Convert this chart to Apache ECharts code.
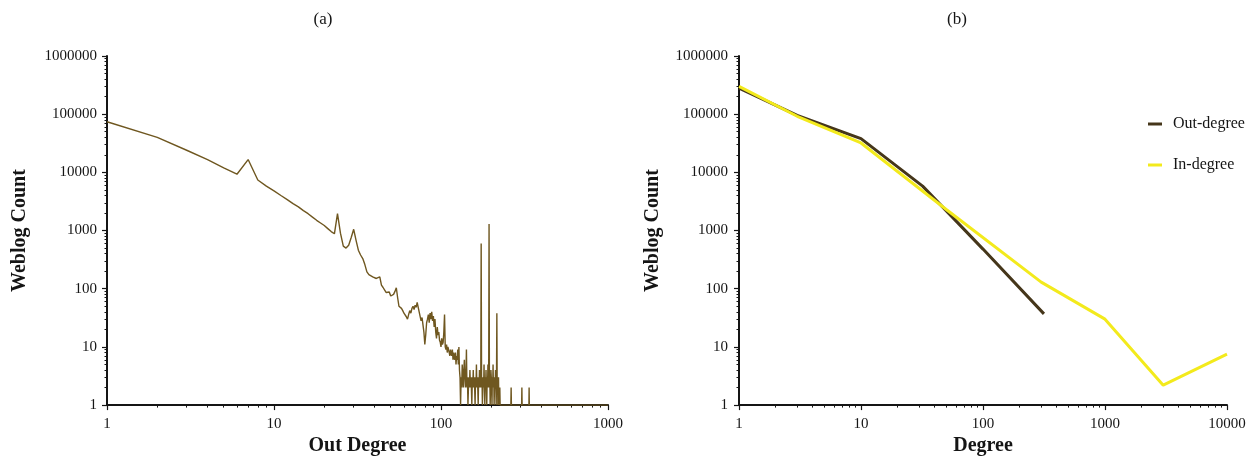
<!DOCTYPE html>
<html>
<head>
<meta charset="utf-8">
<script src="https://cdn.jsdelivr.net/npm/echarts@6/dist/echarts.min.js"></script>
<style>
  html, body { margin: 0; padding: 0; background: #fff; }
  #chart { width: 1255px; height: 461px; }
</style>
</head>
<body>
<div id="chart"></div>
<script>
// (a) weblog count for out degree 1, 2, 3 ... 226
const countA = [
  74000, 40000, 24000, 16500, 12000, 9300, 16600, 7400, 5800, 4800,
  4000, 3400, 2900, 2550, 2200, 1950, 1700, 1500, 1350, 1220,
  1080, 960, 880, 1950, 900, 540, 500, 560, 760, 1050,
  680, 460, 380, 330, 260, 195, 175, 170, 160, 165,
  150, 155, 160, 115, 105, 95, 86, 92, 88, 75,
  70, 80, 90, 104, 70, 50, 52, 46, 42, 38,
  40, 33, 30, 36, 42, 38, 46, 50, 44, 52,
  48, 58, 54, 40, 42, 28, 32, 24, 18, 11,
  16, 26, 30, 36, 26, 38, 30, 40, 28, 34,
  22, 30, 18, 14, 22, 16, 18, 13, 12, 10,
  14, 11, 12, 18, 36, 10, 9, 11, 8, 10,
  9, 8, 7, 9, 8, 7, 9, 6, 8, 7,
  6, 8, 5, 7, 6, 9, 5, 10, 4, 3,
  1, 3, 2, 5, 3, 2, 4, 6, 3, 2,
  3, 9, 2, 3, 1, 2, 3, 2, 4, 2,
  3, 2, 1, 3, 2, 4, 2, 3, 2, 1,
  3, 2, 5, 2, 3, 2, 1, 3, 2, 4,
  2, 3, 2, 600, 2, 3, 1, 2, 3, 2,
  5, 2, 1, 3, 2, 4, 2, 1, 3, 2,
  5, 2, 3, 1300, 2, 3, 1, 2, 4, 3,
  2, 1, 3, 2, 5, 2, 3, 1, 2, 3,
  2, 4, 2, 1, 3, 38, 2, 3, 1, 2,
  3, 1, 2, 1, 2, 1
];
// (a) sparse tail beyond degree 226
const tailDegA = [230, 262, 263, 264, 304, 305, 306, 336, 337, 338, 400, 600, 1000];
const tailCountA = [1, 1, 2, 1, 1, 2, 1, 1, 2, 1, 1, 1, 1];

// (b) degree distributions
const outDegB = [1, 3, 10, 32, 100, 316];
const outCountB = [280000, 95000, 38000, 5800, 480, 37];
const inDegB = [1, 3, 10, 50, 300, 1000, 3000, 10000];
const inCountB = [300000, 92000, 32000, 2300, 130, 30, 2.2, 7.5];

const yTicks = [1, 10, 100, 1000, 10000, 100000, 1000000];
const xTicksA = [1, 10, 100, 1000];
const xTicksB = [1, 10, 100, 1000, 10000];

function minorTicks(lo, hi) {
  const out = [];
  for (let d = lo; d < hi; d *= 10) {
    for (let k = 2; k <= 9; k++) out.push(d * k);
  }
  return out;
}

const FONT = 'Liberation Serif';
const INK = '#151515';

const dataA = countA.map((v, i) => [i + 1, v]);
tailDegA.forEach((d, i) => dataA.push([d, tailCountA[i]]));

function mainAxis(pos, gridIndex, min, max, ticks, name, gap, margin) {
  return {
    type: 'log', gridIndex, min, max, logBase: 10, position: pos,
    name, nameLocation: 'middle', nameGap: gap,
    nameTextStyle: { fontFamily: FONT, fontSize: 20, fontWeight: 'bold', color: INK },
    axisLine: { show: true, onZero: false, lineStyle: { color: INK, width: 2 } },
    axisTick: { show: true, length: 5, lineStyle: { color: INK, width: 1.2 }, customValues: ticks },
    axisLabel: {
      fontFamily: FONT, fontSize: 15, color: INK, margin, customValues: ticks,
      formatter: v => String(v)
    },
    splitLine: { show: false }
  };
}
function minorAxis(pos, gridIndex, min, max) {
  return {
    type: 'log', gridIndex, min, max, logBase: 10, position: pos, offset: 0,
    axisLine: { show: false, onZero: false },
    axisTick: { show: true, length: 2.5, lineStyle: { color: INK, width: 1 }, customValues: minorTicks(min, max) },
    axisLabel: { show: false },
    splitLine: { show: false }
  };
}

const option = {
  animation: false,
  backgroundColor: '#fff',
  title: [
    { text: '(a)', left: 318, top: 6, textAlign: 'center',
      textStyle: { fontFamily: FONT, fontSize: 17, fontWeight: 'normal', color: INK } },
    { text: '(b)', left: 952, top: 6, textAlign: 'center',
      textStyle: { fontFamily: FONT, fontSize: 17, fontWeight: 'normal', color: INK } }
  ],
  legend: {
    orient: 'vertical', left: 1143, top: 111, itemGap: 25,
    icon: 'rect', itemWidth: 14, itemHeight: 3,
    textStyle: { fontFamily: FONT, fontSize: 16, color: INK, padding: [0, 0, 0, 6] },
    data: ['Out-degree', 'In-degree']
  },
  grid: [
    { left: 107, right: 647, top: 56, bottom: 48 },
    { left: 739, right: 28, top: 56, bottom: 54 }
  ],
  xAxis: [
    mainAxis('bottom', 0, 1, 1000, xTicksA, 'Out Degree', 25, 11),
    minorAxis('bottom', 0, 1, 1000),
    mainAxis('bottom', 1, 1, 10000, xTicksB, 'Degree', 28, 11),
    minorAxis('bottom', 1, 1, 10000)
  ],
  yAxis: [
    mainAxis('left', 0, 1, 1000000, yTicks, 'Weblog Count', 77, 10),
    minorAxis('left', 0, 1, 1000000),
    mainAxis('left', 1, 1, 1000000, yTicks, 'Weblog Count', 76, 11),
    minorAxis('left', 1, 1, 1000000)
  ],
  series: [
    {
      name: 'Out Degree (a)', type: 'line', xAxisIndex: 0, yAxisIndex: 0,
      data: dataA, showSymbol: false, symbol: 'none',
      lineStyle: { color: '#6f5720', width: 1.4 }
    },
    {
      name: 'Out-degree', type: 'line', xAxisIndex: 2, yAxisIndex: 2,
      data: outDegB.map((d, i) => [d, outCountB[i]]), symbol: 'none',
      color: '#45361a',
      lineStyle: { color: '#45361a', width: 3 }
    },
    {
      name: 'In-degree', type: 'line', xAxisIndex: 2, yAxisIndex: 2,
      data: inDegB.map((d, i) => [d, inCountB[i]]), symbol: 'none',
      color: '#f3ea1c',
      lineStyle: { color: '#f3ea1c', width: 3 }
    }
  ]
};

const myChart = echarts.init(document.getElementById('chart'));
myChart.setOption(option);
</script>
</body>
</html>
